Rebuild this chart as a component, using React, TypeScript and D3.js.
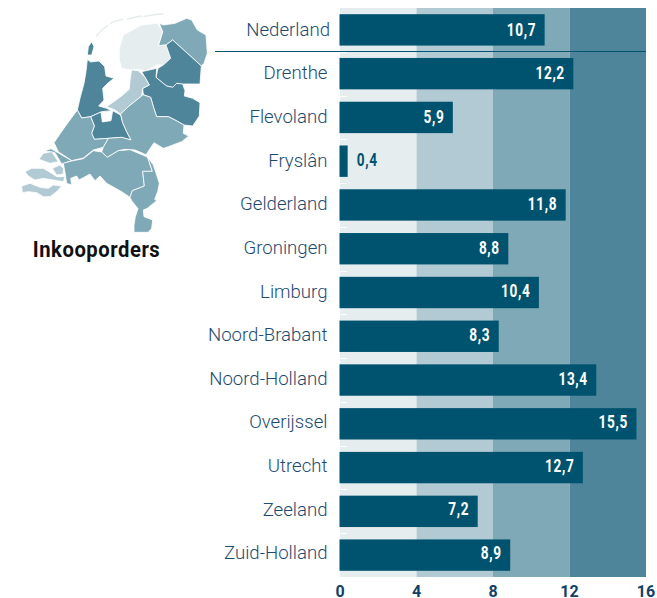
import React from "react";
import * as d3 from "d3";

const regions = ["Nederland","Drenthe","Flevoland","Fryslân","Gelderland","Groningen","Limburg","Noord-Brabant","Noord-Holland","Overijssel","Utrecht","Zeeland","Zuid-Holland"];
const orderValues = [10.7,12.2,5.9,0.4,11.8,8.8,10.4,8.3,13.4,15.5,12.7,7.2,8.9];
const axisTicks = [0,4,8,12,16];
const bandColors = ["#e5edef","#b2cad3","#80a9b7","#4e859a"];
const title = "Inkooporders";

type Pt = [number, number];
// Province outlines (map units)
const provinceShapes: Record<string, Pt[][]> = {
  "Groningen": [[[478,70],[490,75],[525,70],[560,55],[575,60],[592,90],[618,105],[622,160],[612,190],[604,198],[518,120],[498,135],[475,137],[488,95]]],
  "Fryslân": [[[358,145],[370,105],[425,75],[472,70],[488,95],[475,137],[498,135],[512,175],[490,195],[470,195],[440,212],[410,208],[390,210],[365,205],[358,180]]],
  "Drenthe": [[[518,120],[604,198],[600,252],[545,252],[530,250],[518,262],[500,258],[480,242],[468,232],[474,205],[490,195],[512,175],[498,135]]],
  "Overijssel": [[[425,215],[470,205],[468,232],[480,242],[500,258],[518,262],[530,250],[548,252],[555,272],[553,288],[578,295],[600,308],[598,348],[578,378],[552,375],[525,360],[505,350],[470,350],[460,320],[452,292],[430,284],[428,265],[448,255],[435,232]]],
  "Flevoland": [[[395,210],[415,212],[435,232],[448,255],[428,265],[425,288],[385,320],[362,342],[345,330],[320,320],[365,288],[388,268],[390,240]]],
  "Noord-Holland": [
    [[262,178],[272,186],[297,183],[314,200],[318,228],[342,235],[325,248],[308,265],[312,300],[296,318],[320,325],[335,332],[305,335],[272,350],[245,354],[232,330],[240,295],[252,250],[258,215]],
    [[275,125],[282,140],[275,165],[262,165],[265,140]],
  ],
  "Utrecht": [[[272,350],[303,336],[307,366],[333,362],[338,332],[362,345],[368,368],[380,395],[393,420],[365,412],[325,415],[283,418],[275,400],[283,378]]],
  "Zuid-Holland": [
    [[162,428],[195,380],[232,330],[245,354],[272,350],[283,378],[275,400],[283,418],[325,415],[310,442],[280,450],[250,474],[215,482],[175,455]],
    [[135,452],[153,446],[215,482],[185,492],[165,458]],
  ],
  "Gelderland": [[[428,284],[452,292],[460,320],[470,350],[505,350],[525,360],[552,375],[550,400],[566,408],[545,425],[505,440],[490,445],[462,428],[438,464],[405,450],[375,448],[355,452],[322,472],[305,456],[310,442],[325,415],[365,412],[393,420],[380,395],[368,368],[362,342],[385,320],[425,288]]],
  "Noord-Brabant": [[[190,490],[215,483],[250,476],[280,452],[305,456],[322,472],[355,452],[390,449],[430,466],[443,472],[457,514],[428,514],[433,558],[397,572],[390,592],[365,575],[320,550],[300,528],[285,542],[270,522],[237,540],[230,528],[212,535],[215,555],[200,550],[195,518]]],
  "Limburg": [[[443,472],[460,495],[470,525],[478,550],[473,575],[464,598],[470,602],[442,625],[430,630],[432,650],[458,660],[455,685],[445,697],[402,697],[402,675],[406,650],[414,626],[395,602],[390,592],[397,572],[433,558],[428,514],[457,514]]],
  "Zeeland": [
    [[117,478],[130,460],[155,455],[175,485],[150,490]],
    [[75,515],[95,505],[130,505],[155,520],[170,530],[195,530],[190,545],[160,540],[130,535],[105,540],[85,528]],
    [[157,505],[180,495],[190,505],[190,522],[170,525]],
    [[65,558],[90,550],[120,562],[145,565],[160,555],[185,558],[170,575],[150,590],[130,590],[110,578],[85,575],[67,578]],
  ],
};
const waddenArcs: Pt[][] = [
  [[288,110],[305,90],[325,75]],
  [[330,70],[350,62],[370,58]],
  [[380,58],[400,52],[425,48]],
  [[430,50],[460,44],[490,42]],
];

const W = 657, H = 598;
const x = d3.scaleLinear().domain([0,16]).range([340,646]);
const y = d3.scaleBand<string>().domain(regions).range([8,577]).paddingInner(0.283).paddingOuter(0.1415);
const yText = d3.scaleBand<string>().domain(regions).range([7.5,574.5]).paddingInner(0.283).paddingOuter(0.1415);
const colorOf = d3.scaleThreshold<number,string>().domain([4,8,12]).range(bandColors);
const mapX = d3.scaleLinear().domain([0,660]).range([0,220]);
const mapY = d3.scaleLinear().domain([0,810]).range([0,270]);
const outline = d3.line<Pt>().x(d => mapX(d[0])).y(d => mapY(d[1])).curve(d3.curveLinearClosed);
const arc = d3.line<Pt>().x(d => mapX(d[0])).y(d => mapY(d[1])).curve(d3.curveBasis);

const BAR = "#00536f";
const LABEL = "#1d4a70";
const TICK = "#123f66";
const bandTop = 8, bandBottom = 577;
const boldText = { fontFamily: "Roboto", fontWeight: 700 } as const;

export default function App() {
  const pairs = d3.pairs(axisTicks);
  return (
    <svg width={W} height={H} style={{ position: "absolute", left: 0, top: 0, background: "#fff" }}>
      {pairs.map(([a,b]) => (
        <rect key={a} x={x(a)} y={bandTop} width={x(b)-x(a)} height={bandBottom-bandTop} fill={colorOf((a+b)/2)} />
      ))}
      {regions.slice(0,-1).map(r => {
        const ly = Math.round(y(r)!+y.bandwidth()+y.step()*0.1415)+0.5;
        return <line key={r} x1={x(0)} x2={x(0)+7} y1={ly} y2={ly} stroke="#fff" strokeWidth={1} />;
      })}
      {regions.map((r,i) => {
        const v = orderValues[i];
        const cy = yText(r)!+yText.bandwidth()/2;
        const txt = d3.format(".1f")(v).replace(".",",");
        const outside = v < 2;
        return (
          <g key={r}>
            <rect x={x(0)-0.5} y={y(r)} width={x(v)-x(0)+0.5} height={y.bandwidth()} fill={BAR} />
            <text x={i===0?330:327.5} y={cy} dy="0.35em" textAnchor="end" fontFamily="Roboto" fontWeight={300} fontSize={18.6} fill={LABEL}>{r}</text>
            <g transform={`translate(${outside ? x(v)+30 : x(v)-8.5},${cy}) scale(0.78,1)`}>
              <text y={0} dy="0.36em" textAnchor="end" {...boldText} fontSize={17.5} letterSpacing={0.8} fill={outside ? BAR : "#fff"}>{txt}</text>
            </g>
          </g>
        );
      })}
      <line x1={215} x2={646} y1={51.5} y2={51.5} stroke={BAR} strokeWidth={1} />
      {axisTicks.map(t => (
        <text key={t} x={x(t)} y={597} textAnchor="middle" fontFamily="Roboto" fontWeight={700} fontSize={16} fill={TICK}>{t}</text>
      ))}
      <g>
        {waddenArcs.map((a,i) => (
          <path key={i} d={arc(a)!} fill="none" stroke="#e5edef" strokeWidth={1.5} />
        ))}
        {Object.entries(provinceShapes).map(([name, parts]) => (
          <g key={name}>
            {parts.map((p,i) => (
              <path key={i} d={outline(p)!} fill={colorOf(orderValues[regions.indexOf(name)])} stroke="#fff" strokeWidth={0.8} strokeLinejoin="round" />
            ))}
          </g>
        ))}
      </g>
      <g transform="translate(96.5,256.5) scale(0.9,1)">
        <text textAnchor="middle" {...boldText} fontSize={22.5} letterSpacing={0.6} fill="#111">{title}</text>
      </g>
    </svg>
  );
}
